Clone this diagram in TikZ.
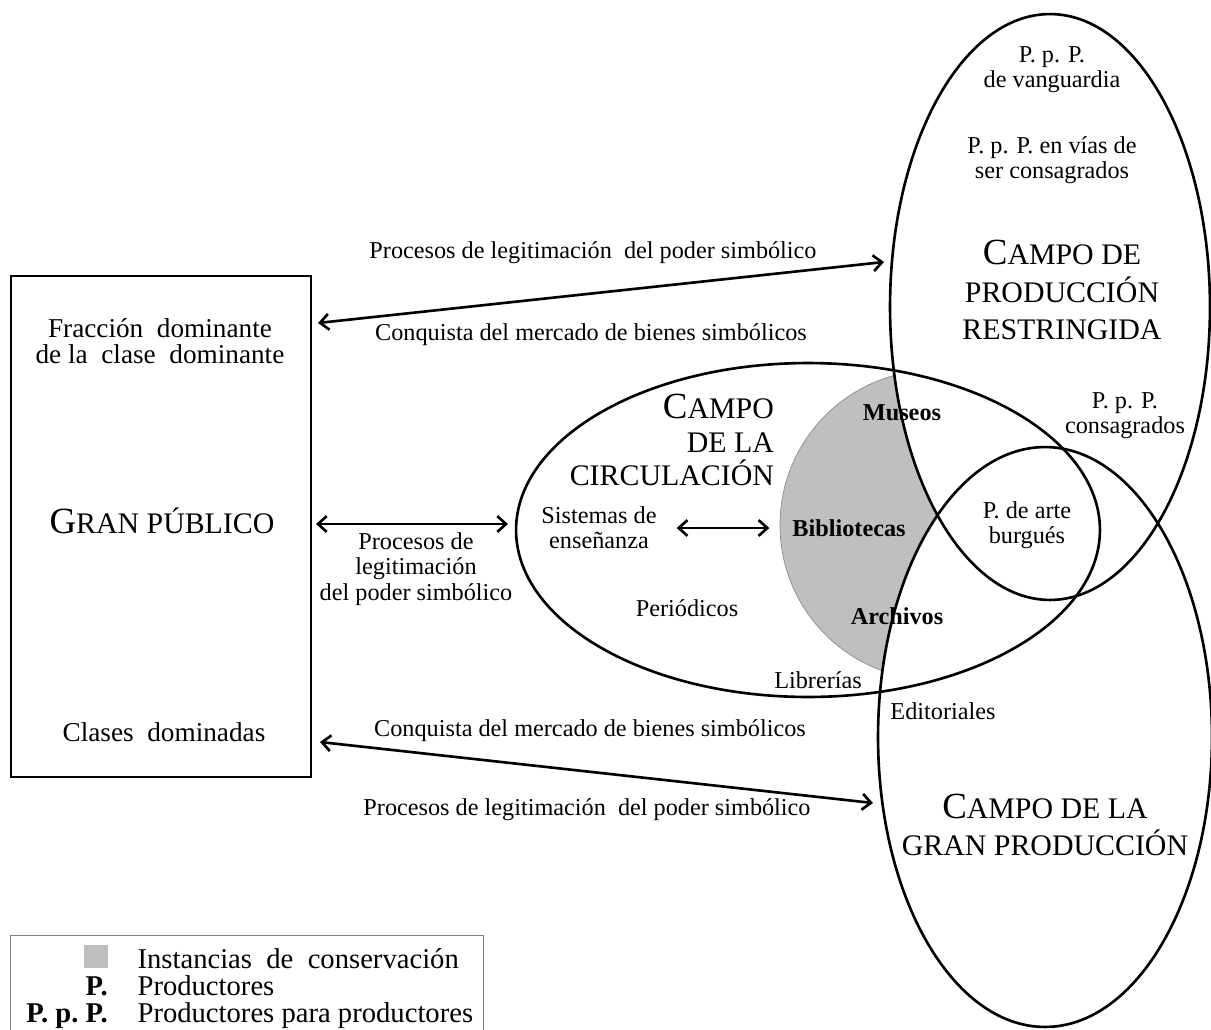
\documentclass[tikz,border=0pt]{standalone}
\usepackage{fontspec}
\setmainfont{Liberation Serif}
\usetikzlibrary{arrows.meta, shapes.geometric}

\newcommand{\ini}[1]{{\fontsize{21}{21}\selectfont #1}}
\newcommand{\keycell}[1]{\makebox[52pt][r]{#1}}

\begin{document}
\begin{tikzpicture}
      [
        x=0.02cm, y=-0.02cm,
        txt/.style={font=\fontsize{13.8}{14.4}\selectfont, align=center, inner sep=1pt},
        boxtxt/.style={font=\fontsize{15.5}{14.8}\selectfont, align=center, inner sep=1pt},
        title/.style={font=\fontsize{17}{21.3}\selectfont, align=center, inner sep=1pt},
        instancia/.style={txt, font=\fontsize{13.8}{14.4}\selectfont\bfseries},
        field/.style={ellipse, draw, line width=1.5pt, inner sep=0pt},
        dbl/.style={{Straight Barb[length=5pt,width=9pt]}-{Straight Barb[length=5pt,width=9pt]}, line width=1.5pt},
        legtxt/.style={font=\fontsize{16.3}{14.2}\selectfont, anchor=base west, inner sep=0pt}
      ]
      \useasboundingbox (0,0) rectangle (1211,1029);
      % conservation area and white field interiors
      \fill[black!25] (935,525) circle (155);
      \draw[black!45, thin] (935,525) circle (155);
      \fill[white] (1050,307) ellipse [x radius=160, y radius=293];
      \fill[white] (1045,737) ellipse [x radius=167, y radius=290];
      % fields
      \node[field, minimum width=6.4cm, minimum height=11.72cm] (restr) at (1050,307) {};
      \node[field, minimum width=11.68cm, minimum height=6.68cm] (circ) at (808,530) {};
      \node[field, minimum width=6.68cm, minimum height=11.6cm] (gran) at (1045,737) {};
      % public
      \node[draw, line width=1.6pt, minimum width=6cm, minimum height=10.02cm] (publico) at (161,526.5) {};
      \node[boxtxt] (fraccion) at (160,341) {Fracción~ dominante\\de la~ clase~ dominante};
      \node[title] (granpub) at (162,521) {\ini{G}RAN PÚBLICO};
      \node[boxtxt] (clases) at (164,732) {Clases~ dominadas};
      % restricted production
      \node[txt] (vang) at (1052,70) {P. p. P.\\de vanguardia};
      \node[txt] (vias) at (1052,160) {P. p. P. en vías de\\ser consagrados};
      \node[title] (restrtit) at (1062,290) {\ini{C}AMPO DE\\PRODUCCIÓN\\RESTRINGIDA};
      \node[txt] (consag) at (1125,416) {P. p. P.\\consagrados};
      \node[txt] (burgues) at (1027,525) {P. de arte\\burgués};
      % circulation
      \node[title, font=\fontsize{17}{19}\selectfont, align=right, anchor=east] (circtit) at (776,440) {\ini{C}AMPO\\DE LA\\CIRCULACIÓN};
      \node[txt] (sistemas) at (599,528) {Sistemas de\\enseñanza};
      \node[txt] (periodicos) at (687,608) {Periódicos};
      \node[txt] (librerias) at (818,680) {Librerías};
      \node[instancia] (museos) at (902,413) {Museos};
      \node[instancia] (biblio) at (849,528) {Bibliotecas};
      \node[instancia] (archivos) at (897,616) {Archivos};
      % large production
      \node[txt] (editoriales) at (943,711) {Editoriales};
      \node[title] (grantit) at (1045,825) {\ini{C}AMPO DE LA\\GRAN PRODUCCIÓN};
      % exchanges
      \coordinate (pubUp) at (318,323);
      \coordinate (restrIn) at (884,262);
      \coordinate (pubMid) at (316,524);
      \coordinate (circIn) at (508,524);
      \coordinate (pubLow) at (320,742);
      \coordinate (granIn) at (873,803);
      \draw[dbl] (pubUp) -- (restrIn);
      \draw[dbl] (pubMid) -- (circIn);
      \draw[dbl] (pubLow) -- (granIn);
      \draw[dbl, shorten <=0.36cm, shorten >=0.42cm] (sistemas) -- (biblio);
      \node[txt] (legit1) at (593,253) {Procesos de legitimación~ del poder simbólico};
      \node[txt] (conq1) at (591,335) {Conquista del mercado de bienes simbólicos};
      \node[txt] (legit2) at (416,569) {Procesos de\\legitimación\\del poder simbólico};
      \node[txt] (conq2) at (590,731) {Conquista del mercado de bienes simbólicos};
      \node[txt] (legit3) at (587,810) {Procesos de legitimación~ del poder simbólico};
      % legend
      \draw[black!50, thin] (10,935) rectangle (483,1045);
      \node[legtxt] (leyenda) at (16,968) {\begin{tabular}[t]{@{}r@{\hspace{17pt}}l@{}}
          \keycell{\color{black!25}\rule{13.6pt}{13pt}} & Instancias~ de~ conservación\\
          \keycell{\bfseries P.} & Productores\\
          \keycell{\bfseries P.\ p.\ P.} & Productores para productores
        \end{tabular}};
\end{tikzpicture}
\end{document}
